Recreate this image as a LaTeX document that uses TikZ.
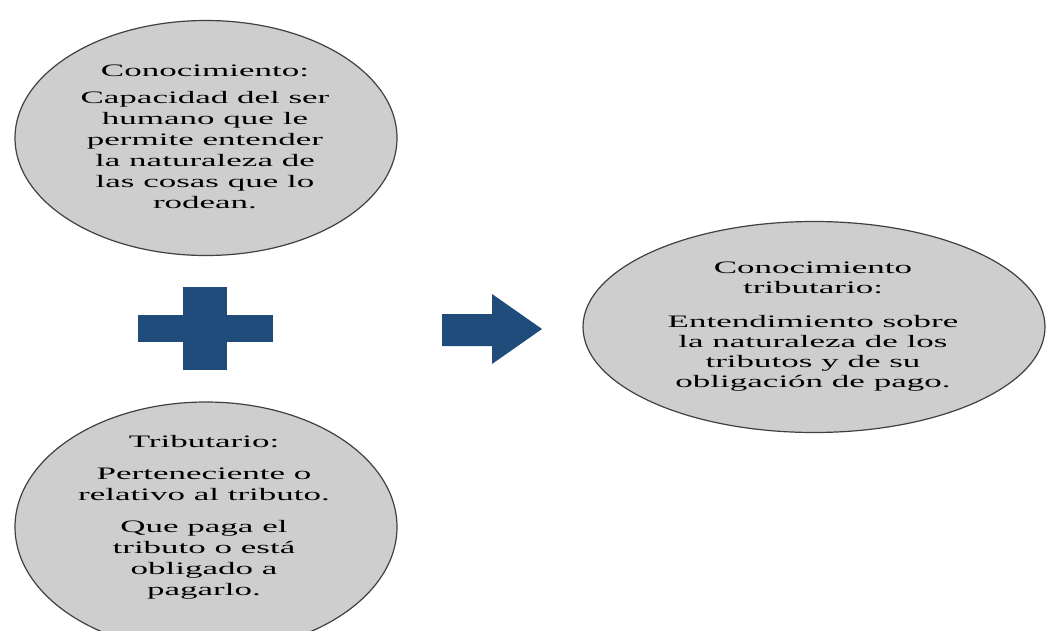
\documentclass[tikz,border=0pt]{standalone}
\usepackage{fontspec}
\setmainfont{Liberation Serif}[FakeStretch=2.0]
\usetikzlibrary{shapes.geometric}
\definecolor{azulsigno}{RGB}{31,76,122}
\definecolor{grisovalo}{RGB}{206,206,206}
\begin{document}
\begin{tikzpicture}[
        x=1pt, y=-1pt,
        ovalo/.style={
            ellipse, 
            draw=black!75, 
            line width=1.2pt, 
            fill=grisovalo, 
            inner sep=0pt
        },
        texto/.style={
            align=center, 
            inner sep=0pt, 
            font=\fontsize{17.5}{21}\selectfont
        },
        signo/.style={fill=azulsigno}
    ]
    \useasboundingbox (0, 0) rectangle (1046, 631);
    % Elipses con coordenadas fijas
    \node[ovalo, minimum width=382pt, minimum height=235pt] (conocimiento) at (206, 138) {};
    \node[ovalo, minimum width=382pt, minimum height=250pt] (tributario) at (206, 527) {};
    \node[ovalo, minimum width=462pt, minimum height=211pt] (resultado) at (814, 327) {};
    
    % Textos
    \node[texto] (conocimiento-txt) at (205, 137) {Conocimiento:\\[6pt]Capacidad del ser\\humano que le\\permite entender\\la naturaleza de\\las cosas que lo\\rodean.};
    \node[texto] (tributario-txt) at (204, 517) {Tributario:\\[11pt]Perteneciente o\\relativo al tributo.\\[11pt]Que paga el\\tributo o está\\obligado a\\pagarlo.};
    \node[texto, font=\fontsize{17.5}{20}\selectfont] (resultado-txt) at (813, 327) {Conocimiento\\tributario:\\[14pt]Entendimiento sobre\\la naturaleza de los\\tributos y de su\\obligación de pago.};
    
    % Signo mas y flecha
    \fill[signo] (138, 315) rectangle (273, 342);
    \fill[signo] (183, 287) rectangle (227, 370);
    \fill[signo] (442, 314) -- (492, 314) -- (492, 294) -- (542, 329) -- (492, 364) -- (492, 346) -- (442, 346) -- cycle;
    \end{tikzpicture}
\end{document}
